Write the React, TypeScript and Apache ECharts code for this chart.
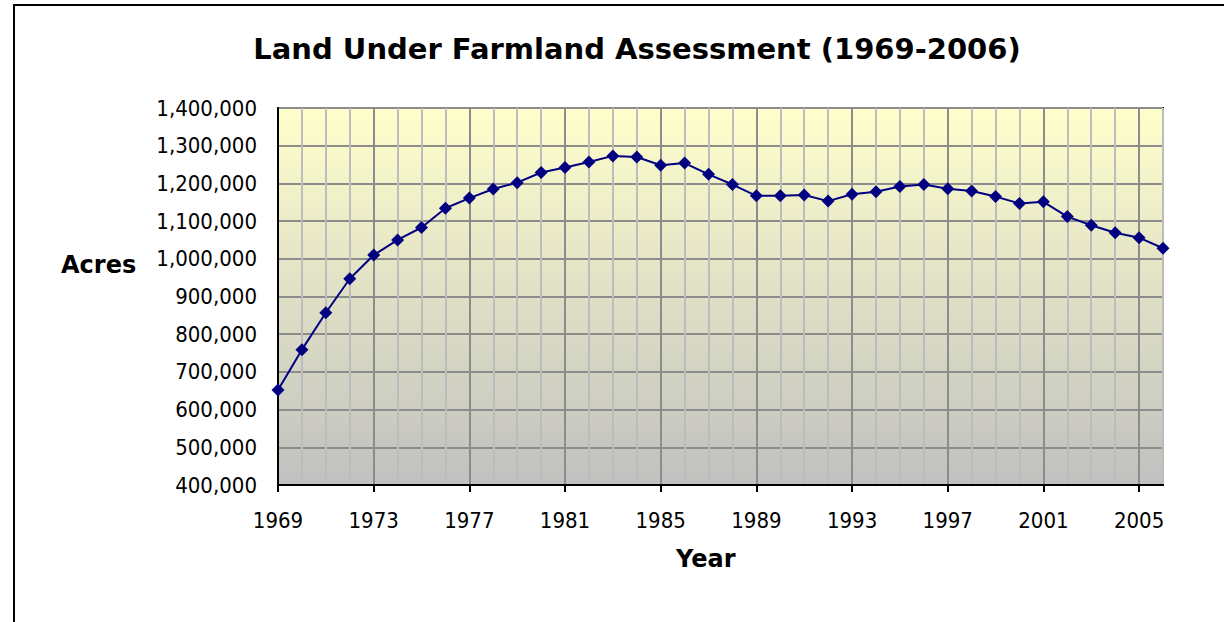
import React, { useEffect, useRef } from "react";
import * as echarts from "echarts";

const years: string[] = [
  "1969","1970","1971","1972","1973","1974","1975","1976","1977","1978",
  "1979","1980","1981","1982","1983","1984","1985","1986","1987","1988",
  "1989","1990","1991","1992","1993","1994","1995","1996","1997","1998",
  "1999","2000","2001","2002","2003","2004","2005","2006",
];

const acres: number[] = [
  652000, 759000, 857000, 947000, 1010000, 1050000, 1083000, 1134000, 1161000, 1185000,
  1202000, 1229000, 1242000, 1257000, 1273000, 1270000, 1248000, 1254000, 1224000, 1197000,
  1167000, 1167000, 1169000, 1153000, 1171000, 1178000, 1192000, 1197000, 1186000, 1180000,
  1165000, 1147000, 1151000, 1112000, 1089000, 1069000, 1056000, 1028000,
];

const yMin = 400000;
const yMax = 1400000;
const yStep = 100000;

const titleText = "Land Under Farmland Assessment (1969-2006)";
const yAxisTitle = "Acres";
const xAxisTitle = "Year";

const FONT = "'DejaVu Sans Condensed', 'DejaVu Sans', sans-serif";
const BOLD_FONT = "'DejaVu Sans', sans-serif";

export default function App() {
  const ref = useRef<HTMLDivElement>(null);
  useEffect(() => {
    if (!ref.current) return;
    const chart = echarts.init(ref.current, null, { renderer: "svg" });
    const fmt = (v: number) => v.toLocaleString("en-US");
    chart.setOption({
      animation: false,
      backgroundColor: "#ffffff",
      title: {
        text: titleText,
        left: 632,
        textAlign: "center",
        top: 29,
        textStyle: {
          fontFamily: BOLD_FONT,
          fontWeight: "bold",
          fontSize: 29,
          color: "#000",
        },
      },
      graphic: [
        {
          type: "rect",
          z: -10,
          silent: true,
          shape: { x: 14, y: 5, width: 1300, height: 700 },
          style: { fill: "none", stroke: "#000", lineWidth: 2 },
        },
        {
          type: "text",
          left: 61,
          top: 253,
          style: {
            text: yAxisTitle,
            fontFamily: BOLD_FONT,
            fontWeight: "bold",
            fontSize: 24,
            fill: "#000",
          },
        },
        {
          type: "text",
          left: 676,
          top: 547,
          style: {
            text: xAxisTitle,
            fontFamily: BOLD_FONT,
            fontWeight: "bold",
            fontSize: 24,
            fill: "#000",
          },
        },
      ],
      grid: {
        left: 278,
        top: 108,
        right: 61,
        bottom: 137,
        show: true,
        borderColor: "#000",
        borderWidth: 2,
        backgroundColor: new echarts.graphic.LinearGradient(0, 0, 0, 1, [
          { offset: 0, color: "#FFFFCC" },
          { offset: 1, color: "#C0C0C0" },
        ]),
        containLabel: false,
      },
      xAxis: {
        type: "category",
        data: years,
        boundaryGap: false,
        axisLine: { show: true, lineStyle: { color: "#000", width: 2 } },
        axisTick: {
          show: true,
          interval: 3,
          length: 7,
          inside: false,
          lineStyle: { color: "#000", width: 2 },
        },
        axisLabel: {
          interval: 3,
          margin: 24,
          fontFamily: FONT,
          fontSize: 22,
          color: "#000",
        },
        splitLine: {
          show: true,
          interval: 0,
          lineStyle: {
            color: ["#8c8c8c", "#bcbcbc", "#bcbcbc", "#bcbcbc"],
            width: 2,
          },
        },
      },
      yAxis: {
        type: "value",
        min: yMin,
        max: yMax,
        interval: yStep,
        axisLine: { show: true, lineStyle: { color: "#000", width: 2 } },
        axisTick: { show: false },
        axisLabel: {
          margin: 21,
          fontFamily: FONT,
          fontSize: 22,
          color: "#000",
          formatter: fmt,
        },
        splitLine: {
          show: true,
          lineStyle: { color: "#8c8c8c", width: 2 },
        },
      },
      series: [
        {
          type: "line",
          data: acres,
          symbol: "diamond",
          symbolSize: 13,
          itemStyle: { color: "#000080" },
          lineStyle: { color: "#000080", width: 2 },
          z: 5,
        },
      ],
    });
    return () => chart.dispose();
  }, []);
  return (
    <div
      ref={ref}
      style={{ position: "fixed", left: 0, top: 0, width: 1224, height: 622 }}
    />
  );
}
